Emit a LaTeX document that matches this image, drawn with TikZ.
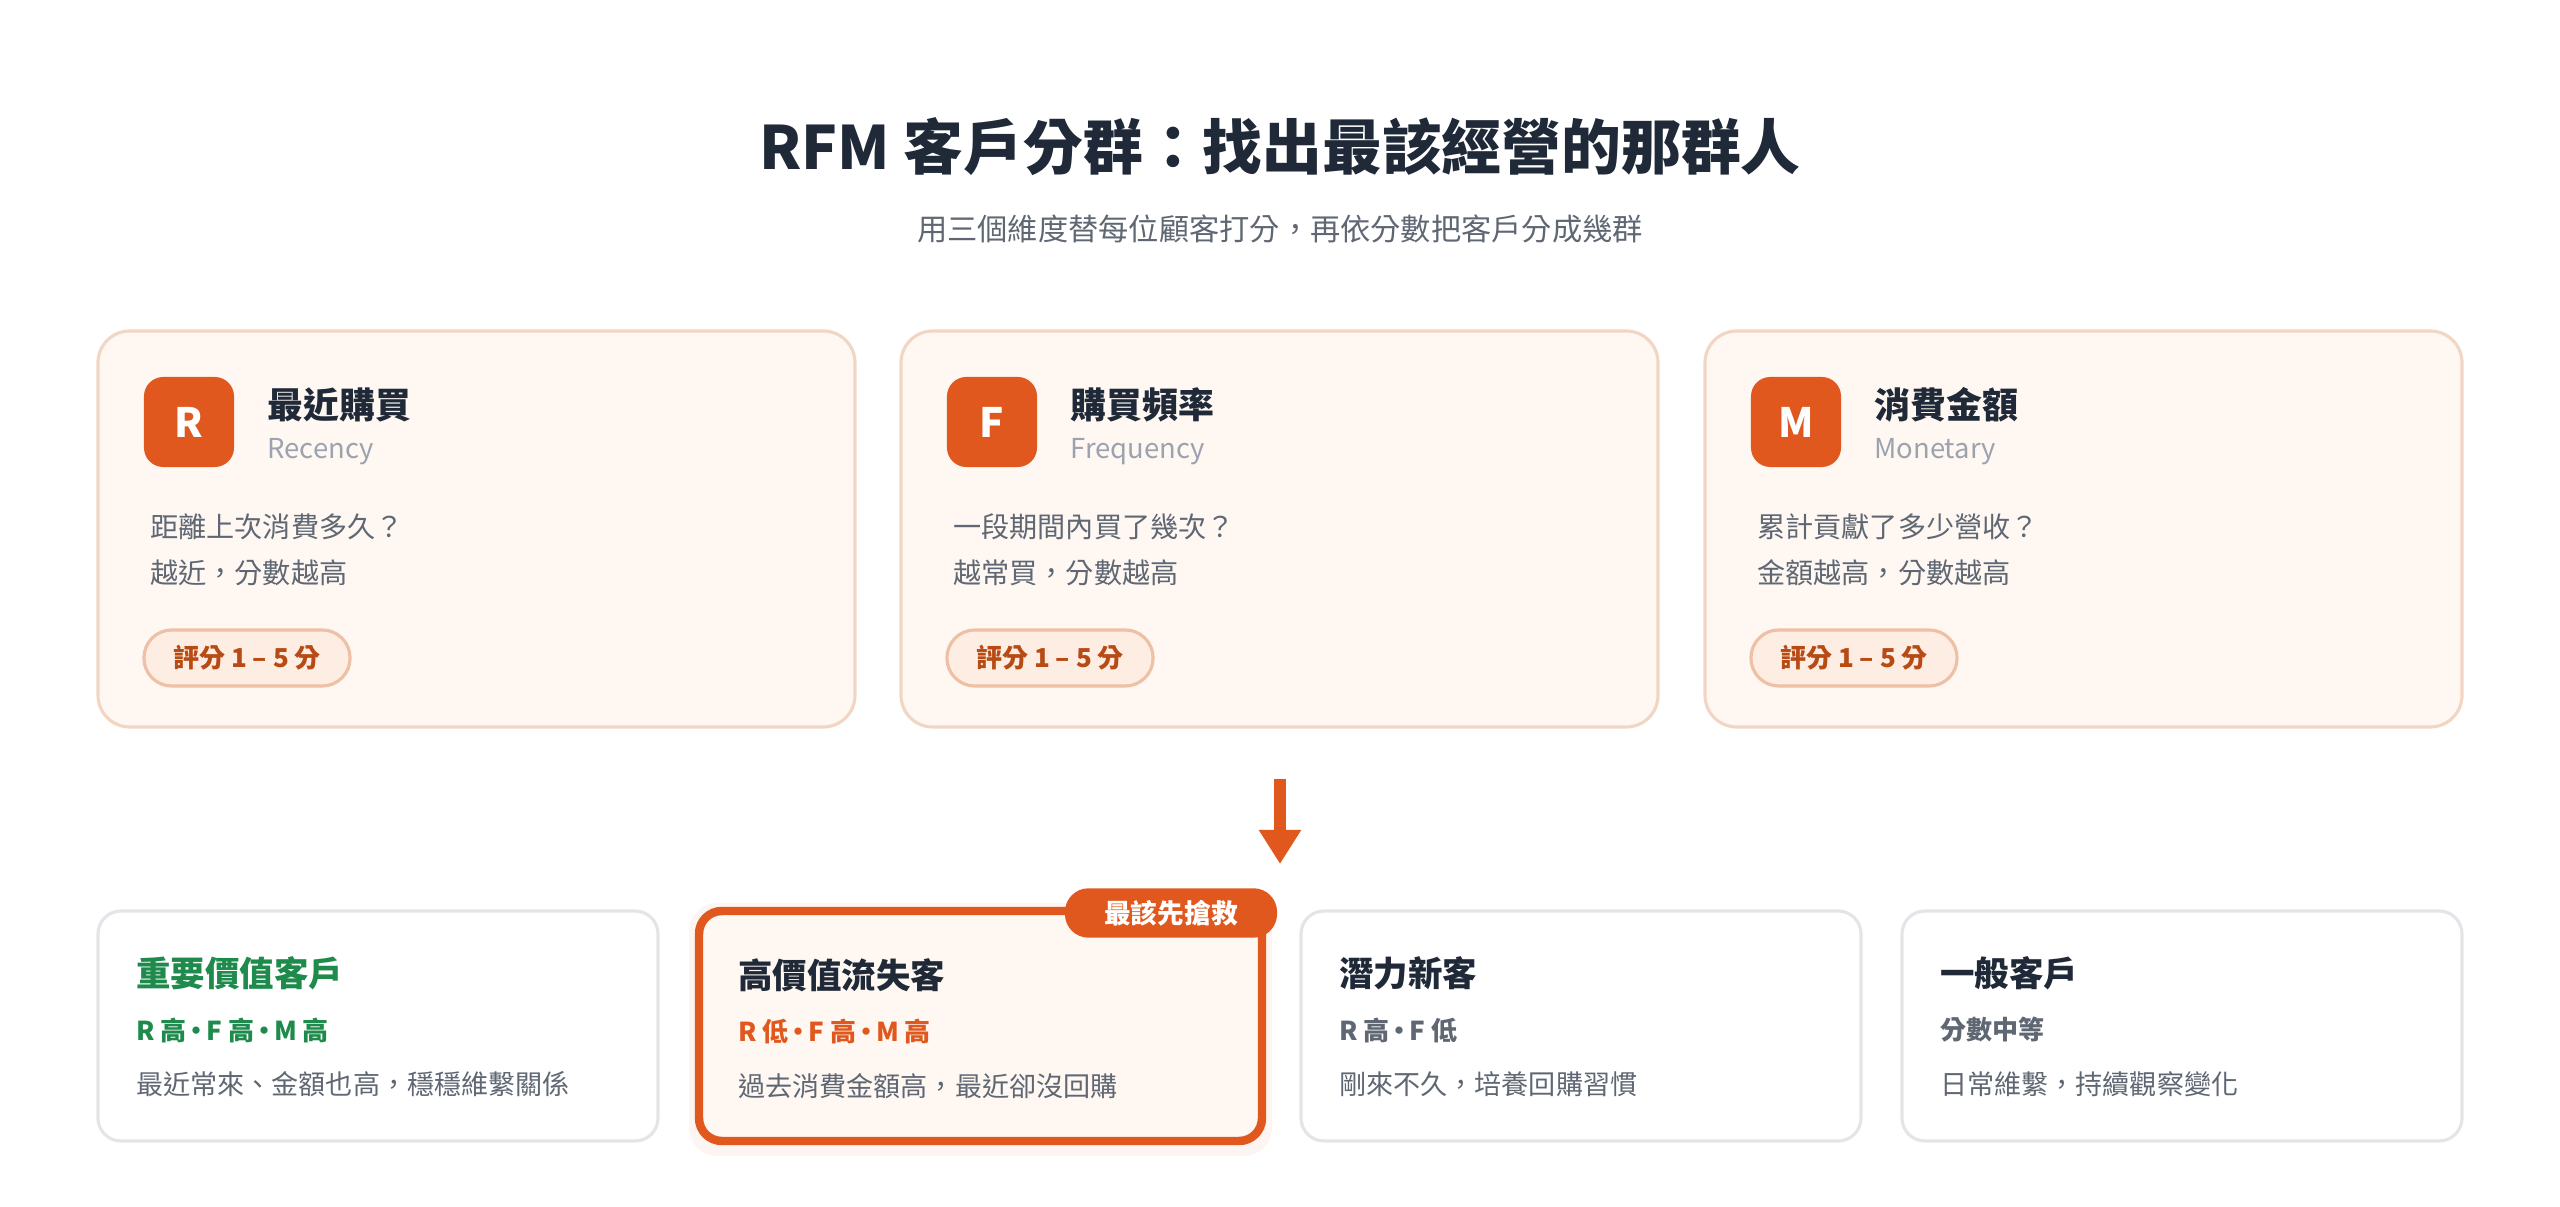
\documentclass[tikz,border=0pt]{standalone}
\usepackage{fontspec}
\setmainfont{Noto Sans CJK TC}
\usepackage{tikz}
\usetikzlibrary{arrows.meta}

\definecolor{rfmorange}{HTML}{E0581E}
\definecolor{cardfill}{HTML}{FEF7F2}
\definecolor{cardline}{HTML}{F2D6C4}
\definecolor{inkdark}{HTML}{1F2937}
\definecolor{inkgray}{HTML}{5F6773}
\definecolor{inklight}{HTML}{9CA3AF}
\definecolor{rfmgreen}{HTML}{1E8A4C}
\definecolor{pillfill}{HTML}{FDEDE3}
\definecolor{pillline}{HTML}{EEC0A6}
\definecolor{pilltext}{HTML}{B84A14}
\definecolor{plainline}{HTML}{E3E5E8}
\newcommand{\dotsep}{\kern-0.12em·\kern-0.12em}

\begin{document}
\begin{tikzpicture}[x=0.01cm,y=-0.01cm]
    % --- DEFINE STYLES ---
    \tikzset{
        topcard/.style={draw=cardline, fill=cardfill, line width=0.9pt, rounded corners=9pt},
        icon/.style={fill=rfmorange, rounded corners=5.5pt, minimum size=0.9cm, inner sep=0pt, text=white, font=\fontsize{11.5}{12}\selectfont\bfseries},
        ctitle/.style={anchor=west, text=inkdark, font=\fontsize{10.2}{12}\selectfont\bfseries},
        csub/.style={anchor=west, text=inklight, font=\fontsize{7.8}{10}\selectfont},
        cbody/.style={anchor=west, text=inkgray, font=\fontsize{8}{10}\selectfont},
        pill/.style={draw=pillline, fill=pillfill, line width=0.9pt, rounded corners=7.9pt, minimum width=2.06cm, minimum height=0.56cm, text=pilltext, font=\fontsize{7.4}{9}\selectfont\bfseries},
        segcard/.style={draw=plainline, fill=white, line width=0.9pt, rounded corners=6.5pt},
        stitle/.style={anchor=west, text=inkdark, font=\fontsize{9.8}{12}\selectfont\bfseries},
        srate/.style={anchor=west, text=inkgray, font=\fontsize{7.4}{9}\selectfont\bfseries},
        sdesc/.style={anchor=west, text=inkgray, font=\fontsize{7.7}{9}\selectfont},
    }
    \useasboundingbox (0,0) rectangle (2560,1207);

    % Heading
    \node[text=inkdark, font=\fontsize{17}{20}\selectfont\bfseries] (heading) at (1280,147) {RFM 客戶分群：找出最該經營的那群人};
    \node[text=inkgray, font=\fontsize{8.6}{10}\selectfont] (subheading) at (1280,229) {用三個維度替每位顧客打分，再依分數把客戶分成幾群};

    % --- THREE SCORE CARDS ---
    \foreach \x/\ltr/\name/\eng/\qa/\qb [count=\i] in {
        98/R/最近購買/Recency/距離上次消費多久？/越近，分數越高,
        901/F/購買頻率/Frequency/一段期間內買了幾次？/越常買，分數越高,
        1705/M/消費金額/Monetary/累計貢獻了多少營收？/金額越高，分數越高} {
        \draw[topcard] (\x,331) rectangle ++(757,396);
        \node[icon] (icon\i) at (\x+91,422) {\ltr};
        \node[ctitle] (title\i) at (\x+157,405) {\name};
        \node[csub] (eng\i) at (\x+157,452) {\eng};
        \node[cbody] (qa\i) at (\x+40,527) {\qa};
        \node[cbody] (qb\i) at (\x+40,573) {\qb};
        \node[pill] (pill\i) at (\x+149,658) {評分 1 – 5 分};
    }

    % Arrow down
    \coordinate (arrtop) at (1280,779);
    \coordinate (arrbot) at (1280,864);
    \draw[rfmorange, line width=3.2pt, -{Triangle[length=0.34cm,width=0.4cm]}] (arrtop) -- (arrbot);

    % --- FOUR SEGMENTS ---
    \foreach \x/\name/\rate/\desc [count=\i] in {
        98/重要價值客戶/R 高\dotsep F 高\dotsep M 高/最近常來、金額也高，穩穩維繫關係,
        1301/潛力新客/R 高\dotsep F 低/剛來不久，培養回購習慣,
        1902/一般客戶/分數中等/日常維繫，持續觀察變化} {
        \draw[segcard] (\x,911) rectangle ++(560,230);
        \ifnum\i=1
            \node[stitle, text=rfmgreen] (seg\i) at (\x+26,973) {\name};
            \node[srate, text=rfmgreen] (rate\i) at (\x+26,1030) {\rate};
        \else
            \node[stitle] (seg\i) at (\x+26,973) {\name};
            \node[srate] (rate\i) at (\x+26,1030) {\rate};
        \fi
        \node[sdesc] (desc\i) at (\x+26,1084) {\desc};
    }

    % Highlighted segment
    \fill[rfmorange!6, rounded corners=8pt] (689,903) rectangle (1272,1156);
    \draw[segcard, draw=rfmorange, fill=cardfill, line width=2.4pt] (699,911) rectangle (1262,1141);
    \node[stitle] (hseg) at (726,975) {高價值流失客};
    \node[srate, text=rfmorange] (hrate) at (726,1031) {R 低\dotsep F 高\dotsep M 高};
    \node[sdesc] (hdesc) at (726,1086) {過去消費金額高，最近卻沒回購};
    \node[fill=rfmorange, rounded corners=6.7pt, minimum width=2.12cm, minimum height=0.48cm, text=white, font=\fontsize{7.6}{9}\selectfont\bfseries] (badge) at (1171,913) {最該先搶救};
\end{tikzpicture}
\end{document}
